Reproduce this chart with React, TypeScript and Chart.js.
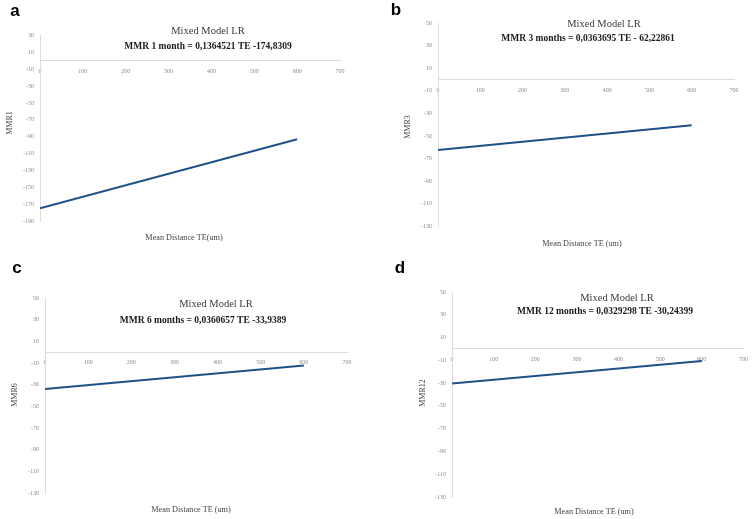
import React, { useEffect, useRef } from "react";
import { Chart, registerables } from "chart.js";

Chart.register(...registerables);

// ---- data ----
const X_ENDPOINTS = [0, 600];
const MMR1_VALUES = [-174.83, -92.96];
const MMR3_VALUES = [-62.23, -40.41];
const MMR6_VALUES = [-33.94, -12.3];
const MMR12_VALUES = [-30.24, -10.48];

const X_TICKS = [0, 100, 200, 300, 400, 500, 600, 700];
const Y_TICKS_A = [-190, -170, -150, -130, -110, -90, -70, -50, -30, -10, 10, 30];
const Y_TICKS_BCD = [-130, -110, -90, -70, -50, -30, -10, 10, 30, 50];

const PANEL_LETTERS = ["a", "b", "c", "d"];
const CHART_TITLE = "Mixed Model LR";
const EQUATIONS = [
  "MMR 1 month = 0,1364521 TE -174,8309",
  "MMR 3 months = 0,0363695 TE - 62,22861",
  "MMR 6 months = 0,0360657 TE -33,9389",
  "MMR 12 months = 0,0329298 TE -30,24399",
];
const X_TITLES = [
  "Mean Distance TE(um)",
  "Mean Distance TE (um)",
  "Mean Distance TE (um)",
  "Mean Distance TE (um)",
];
const Y_TITLES = ["MMR1", "MMR3", "MMR6", "MMR12"];
const SERIES = [MMR1_VALUES, MMR3_VALUES, MMR6_VALUES, MMR12_VALUES];
const Y_TICK_SETS = [Y_TICKS_A, Y_TICKS_BCD, Y_TICKS_BCD, Y_TICKS_BCD];

// ---- layout (page pixels) ----
const W = 755;
const H = 519;
const Y_SCALE_W = 30;

type Area = { left: number; right: number; top: number; bottom: number };
type Txt = { x: number; y: number };
type Layout = {
  area: Area;
  letter: Txt;
  title: Txt;
  eq: Txt;
  xTitle: Txt;
  yTitle: Txt;
};

const LAYOUTS: Layout[] = [
  {
    area: { left: 40, right: 340, top: 35.5, bottom: 221 },
    letter: { x: 15, y: 11 },
    title: { x: 208, y: 31 },
    eq: { x: 208, y: 46.5 },
    xTitle: { x: 184, y: 237.5 },
    yTitle: { x: 10, y: 123 },
  },
  {
    area: { left: 438, right: 734, top: 23, bottom: 226.5 },
    letter: { x: 396, y: 10 },
    title: { x: 604, y: 24 },
    eq: { x: 588, y: 38.3 },
    xTitle: { x: 582, y: 244.3 },
    yTitle: { x: 408, y: 127 },
  },
  {
    area: { left: 45, right: 347, top: 298, bottom: 493 },
    letter: { x: 17, y: 268 },
    title: { x: 216, y: 304.3 },
    eq: { x: 203, y: 321 },
    xTitle: { x: 191, y: 510 },
    yTitle: { x: 15, y: 395 },
  },
  {
    area: { left: 452, right: 746, top: 292, bottom: 497 },
    letter: { x: 400, y: 268 },
    title: { x: 617, y: 298.3 },
    eq: { x: 605, y: 311.7 },
    xTitle: { x: 594, y: 512 },
    yTitle: { x: 423, y: 393 },
  },
];

const SERIF = "'Liberation Serif', 'Times New Roman', serif";
const SANS = "'Liberation Sans', Arial, sans-serif";
const LINE_COLOR = "#1f5189";
const AXIS_COLOR = "#dcdcdc";
const TICK_COLOR = "#8a8a8a";

function PanelChart({ index }: { index: number }) {
  const ref = useRef<HTMLCanvasElement | null>(null);

  useEffect(() => {
    const canvas = ref.current;
    if (!canvas) return;
    const lay = LAYOUTS[index];
    const yTicks = Y_TICK_SETS[index];
    const values = SERIES[index];

    const items = [
      { text: PANEL_LETTERS[index], ...lay.letter, font: `bold 17px ${SANS}`, color: "#000", rot: 0 },
      { text: CHART_TITLE, ...lay.title, font: `10.5px ${SERIF}`, color: "#3a3a3a", rot: 0 },
      { text: EQUATIONS[index], ...lay.eq, font: `bold 9.5px ${SERIF}`, color: "#1a1a1a", rot: 0 },
      { text: X_TITLES[index], ...lay.xTitle, font: `8.2px ${SERIF}`, color: "#444", rot: 0 },
      { text: Y_TITLES[index], ...lay.yTitle, font: `8px ${SERIF}`, color: "#444", rot: -Math.PI / 2 },
    ];

    const overlay = {
      id: "overlayText" + index,
      afterDraw(chart: any) {
        const ctx = chart.ctx;
        for (const t of items) {
          ctx.save();
          ctx.font = t.font;
          ctx.fillStyle = t.color;
          ctx.textAlign = "center";
          ctx.textBaseline = "middle";
          ctx.translate(t.x, t.y);
          if (t.rot) ctx.rotate(t.rot);
          ctx.fillText(t.text, 0, 0);
          ctx.restore();
        }
      },
    };

    const tickFont = { family: SERIF, size: 6 };

    const chart = new Chart(canvas, {
      type: "line",
      data: {
        datasets: [
          {
            data: X_ENDPOINTS.map((x, i) => ({ x, y: values[i] })),
            borderColor: LINE_COLOR,
            borderWidth: 2,
            pointRadius: 0,
            fill: false,
            tension: 0,
          },
        ],
      },
      options: {
        animation: false,
        responsive: false,
        devicePixelRatio: 1,
        layout: {
          padding: {
            left: lay.area.left - Y_SCALE_W,
            top: lay.area.top,
            right: W - lay.area.right,
            bottom: H - lay.area.bottom,
          },
        },
        plugins: {
          legend: { display: false },
          title: { display: false },
          tooltip: { enabled: false },
        },
        scales: {
          x: {
            type: "linear",
            min: X_TICKS[0],
            max: X_TICKS[X_TICKS.length - 1],
            position: { y: 0 } as any,
            ticks: {
              stepSize: X_TICKS[1] - X_TICKS[0],
              font: tickFont,
              color: TICK_COLOR,
              padding: 7,
              maxRotation: 0,
              autoSkip: false,
            },
            grid: { display: false, drawTicks: false },
            border: { display: true, color: AXIS_COLOR, width: 1 },
            afterFit: (s: any) => {
              s.height = 0;
            },
          },
          y: {
            type: "linear",
            min: yTicks[0],
            max: yTicks[yTicks.length - 1],
            ticks: {
              stepSize: yTicks[1] - yTicks[0],
              font: tickFont,
              color: TICK_COLOR,
              padding: 6,
              autoSkip: false,
            },
            grid: { display: false, drawTicks: false },
            border: { display: true, color: AXIS_COLOR, width: 1 },
            afterFit: (s: any) => {
              s.width = Y_SCALE_W;
            },
          },
        },
      },
      plugins: [overlay],
    } as any);

    return () => chart.destroy();
  }, [index]);

  return (
    <canvas
      ref={ref}
      width={W}
      height={H}
      style={{ position: "absolute", left: 0, top: 0, width: W, height: H }}
    />
  );
}

export default function App() {
  return (
    <div
      style={{
        position: "fixed",
        left: 0,
        top: 0,
        width: W,
        height: H,
        background: "#fff",
        overflow: "hidden",
      }}
    >
      {[0, 1, 2, 3].map((i) => (
        <PanelChart key={i} index={i} />
      ))}
    </div>
  );
}
